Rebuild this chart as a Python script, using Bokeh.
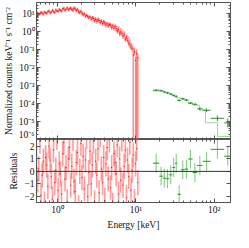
import numpy as np
from bokeh.plotting import figure
from bokeh.layouts import column
from bokeh.models import (LogAxis, LinearAxis, FixedTicker, CustomJSTickFormatter,
                          Range1d, ColumnDataSource, Span)
from bokeh.embed import file_html
from bokeh.resources import INLINE

# ---------------- data ----------------
red_energy = [
    0.540, 0.558, 0.577, 0.597, 0.617, 0.638, 0.660, 0.682, 0.705, 0.729,
    0.754, 0.780, 0.806, 0.834, 0.862, 0.891, 0.922, 0.953, 0.985, 1.019,
    1.054, 1.090, 1.127, 1.165, 1.205, 1.246, 1.288, 1.332, 1.377, 1.424,
    1.473, 1.523, 1.574, 1.628, 1.683, 1.741, 1.800, 1.861, 1.924, 1.990,
    2.057, 2.127, 2.200, 2.274, 2.352, 2.432, 2.514, 2.600, 2.688, 2.780,
    2.874, 2.972, 3.073, 3.178, 3.286, 3.397, 3.513, 3.632, 3.756, 3.883,
    4.015, 4.152, 4.293, 4.439, 4.590, 4.746, 4.908, 5.074, 5.247, 5.425,
    5.610, 5.800, 5.998, 6.202, 6.413, 6.631, 6.856, 7.089, 7.330, 7.580,
    7.837, 8.104, 8.379, 8.664, 8.959, 9.263, 9.578, 9.904, 10.24, 10.59]
red_log_counts = [
    1.00, 1.05, 0.95, 0.99, 1.08, 1.03, 0.97, 1.10, 1.06, 1.01,
    1.12, 1.16, 1.04, 1.09, 1.19, 1.11, 1.07, 1.21, 1.15, 1.13,
    1.24, 1.18, 1.14, 1.27, 1.30, 1.19, 1.25, 1.33, 1.22, 1.28,
    1.32, 1.24, 1.20, 1.31, 1.27, 1.18, 1.23, 1.10, 1.06, 1.13,
    1.02, 0.94, 0.99, 0.86, 0.90, 0.85, 0.76, 0.83, 0.70, 0.77,
    0.74, 0.62, 0.69, 0.58, 0.67, 0.62, 0.51, 0.58, 0.45, 0.54,
    0.48, 0.36, 0.44, 0.33, 0.40, 0.37, 0.24, 0.32, 0.18, 0.28,
    0.16, 0.05, 0.12, -0.08, -0.02, -0.09, -0.25, -0.17, -0.42, -0.35,
    -0.48, -0.63, -0.72, -0.85, -0.95, -1.30, -1.12, -1.60, -1.20, -1.45]
red_err_dex = [0.08] * 30 + [0.10] * 20 + [0.13] * 20 + [0.16] * 15 + [0.22] * 5
red_open_low = [85, 87, 88, 89]          # channels whose error reaches zero
red_residual = [
    1.3, -0.7, 0.2, 2.4, -1.9, -0.3, 0.8, -2.6, 1.1, 0.5,
    -1.2, 2.0, 0.9, -0.4, -2.2, 1.7, -0.9, 0.1, 2.7, -1.5,
    0.6, -0.2, -1.8, 1.4, 2.3, -0.6, 0.3, -2.4, 1.0, 1.9,
    -1.1, 0.4, 2.6, -0.8, -1.6, 0.7, 1.5, -2.9, 0.0, 2.2,
    -0.5, 1.2, -1.4, 0.9, 2.8, -2.0, -0.1, 1.6, -1.0, 0.5,
    2.4, -2.5, 0.8, -0.3, 1.8, -1.7, 2.9, 0.2, -0.9, 1.1,
    -2.3, 0.6, 1.9, -0.6, 2.5, -1.3, 0.3, -2.7, 1.4, 0.7,
    -0.2, 2.1, -1.8, 1.0, -0.7, 2.6, -1.1, 0.4, 1.7, -2.1,
    0.9, -0.4, 2.3, -1.5, 0.1, 1.3, -2.4, 0.6, 1.8, -0.9]
red_model_energy = [0.54, 0.7, 0.9, 1.1, 1.4, 1.65, 1.9, 2.2, 2.6, 3.2, 3.9,
                    4.8, 5.8, 6.8, 7.6, 8.4, 9.0, 9.9, 10.6]
red_model_log = [1.0, 1.06, 1.13, 1.19, 1.26, 1.27, 1.2, 1.0, 0.8, 0.66, 0.55,
                 0.4, 0.28, 0.1, -0.15, -0.45, -0.8, -1.2, -1.3]

green_energy = [18.14, 20.99, 23.02, 25.25, 27.89, 30.39, 32.69, 35.63,
                39.60, 44.03, 49.60, 56.61, 65.48, 79.86, 109.7, 148.7]
green_e_lo = [16.54, 19.90, 22.13, 23.95, 26.63, 29.21, 31.62, 33.79,
              37.56, 41.76, 46.42, 52.99, 60.47, 70.90, 89.95, 133.8]
green_e_hi = [19.90, 22.13, 23.95, 26.63, 29.21, 31.62, 33.79, 37.56,
              41.76, 46.42, 52.99, 60.47, 70.90, 89.95, 133.8, 165.3]
green_log_counts = [-3.26, -3.29, -3.36, -3.41, -3.48, -3.55, -3.60, -3.82,
                    -3.73, -3.80, -3.98, -4.04, -4.29, -4.37, -4.82, -5.07]
green_err_dex = [0.06] * 12 + [0.08, 0.10, 0.15, 0.25]
green_residual = [0.65, -0.38, -0.53, -0.58, -0.27, 0.31, 0.65, -1.82,
                  0.13, 0.18, 0.98, -0.09, 0.47, 0.80, 1.75, 1.20]
green_model_edges = [16.54, 19.90, 22.13, 23.95, 26.63, 29.21, 31.62, 33.79,
                     37.56, 41.76, 46.42, 52.99, 64.27, 77.36, 110.3, 165.3]
green_model_log = [-3.29, -3.28, -3.33, -3.38, -3.46, -3.57, -3.64, -3.69,
                   -3.74, -3.81, -3.96, -4.08, -4.37, -5.07, -5.83]

x_major = [1, 10, 100]
y_major = [1e-6, 1e-5, 1e-4, 1e-3, 1e-2, 1e-1, 1, 10]
r_major = [-2, -1, 0, 1, 2]

# ---------------- styling ----------------
FONT = "Liberation Serif"
FRAME = "#555555"
RED = "#ff0000"
RED_LIGHT = "#ff5c5c"
GREEN = "#2f8f2f"
GREEN_LIGHT = "#7cc77c"

sup_code = """
const m = {'-':'\u207b','0':'\u2070','1':'\u00b9','2':'\u00b2','3':'\u00b3','4':'\u2074',
           '5':'\u2075','6':'\u2076','7':'\u2077','8':'\u2078','9':'\u2079'};
const e = Math.round(Math.log10(tick));
return '10' + String(e).split('').map(c => m[c]).join('');
"""
minus_code = "return String(tick).replace('-', '\u2212');"
blank_code = "return '';"

x_minor = [m * 10.0 ** k for k in (-1, 0, 1, 2) for m in range(2, 10)]
y_minor = [m * 10.0 ** k for k in range(-6, 2) for m in range(2, 10)]


def style_axis(ax, labels=True):
    ax.axis_line_color = FRAME
    ax.major_tick_line_color = FRAME
    ax.minor_tick_line_color = FRAME
    ax.major_tick_in = 4
    ax.major_tick_out = 0
    ax.minor_tick_in = 2
    ax.minor_tick_out = 0
    ax.major_label_text_font = FONT
    ax.major_label_text_font_size = "9.5px"
    ax.major_label_text_color = "#111111"
    ax.major_label_standoff = 2
    ax.axis_label_text_font = FONT
    ax.axis_label_text_font_size = "9.5px"
    ax.axis_label_text_font_style = "normal"
    ax.axis_label_text_color = "#111111"
    ax.axis_label_standoff = 2
    if not labels:
        ax.formatter = CustomJSTickFormatter(code=blank_code)
        ax.major_label_text_font_size = "0px"
        ax.major_label_standoff = 0


W = 233
LB = 30

# ---------------- top panel ----------------
top = figure(width=W, height=139, x_axis_type="log", y_axis_type="log",
             x_range=Range1d(0.54, 161), y_range=Range1d(1e-6, 42),
             x_axis_location=None, output_backend="svg", toolbar_location=None,
             min_border_left=LB, min_border_right=3, min_border_top=2,
             min_border_bottom=0)
top.grid.visible = False
top.outline_line_color = FRAME

ly = top.yaxis[0]
ly.ticker = FixedTicker(ticks=y_major, minor_ticks=y_minor)
ly.formatter = CustomJSTickFormatter(code=sup_code)
ly.axis_label = "Normalized counts keV\u207b\u00b9 s\u207b\u00b9 cm\u207b\u00b2"
style_axis(ly)
for loc in ("below", "above"):
    ax = LogAxis(ticker=FixedTicker(ticks=x_major, minor_ticks=x_minor))
    style_axis(ax, labels=False)
    top.add_layout(ax, loc)
ax = LogAxis(ticker=FixedTicker(ticks=y_major, minor_ticks=y_minor))
style_axis(ax, labels=False)
top.add_layout(ax, "right")

re = np.array(red_energy)
rf = np.power(10.0, np.array(red_log_counts))
rerr = np.array(red_err_dex)
r_lo = rf / np.power(10.0, rerr)
r_hi = rf * np.power(10.0, rerr)
r_lo[red_open_low] = 1e-9
half = 1.017
rres = np.array(red_residual)
red_src = ColumnDataSource(dict(e=re, elo=re / half, ehi=re * half, f=rf,
                                lo=r_lo, hi=r_hi, res=rres,
                                rlo=rres - 1.0, rhi=rres + 1.0))

top.line(red_model_energy, np.power(10.0, np.array(red_model_log)),
         line_color="#ff9c9c", line_width=1)
top.segment(x0="e", y0="lo", x1="e", y1="hi", source=red_src,
            line_color=RED_LIGHT, line_alpha=0.75, line_width=1.4)
top.segment(x0="elo", y0="f", x1="ehi", y1="f", source=red_src,
            line_color=RED, line_width=1)

ge = np.array(green_energy)
gf = np.power(10.0, np.array(green_log_counts))
gerr = np.array(green_err_dex)
gres = np.array(green_residual)
green_src = ColumnDataSource(dict(e=ge, elo=np.array(green_e_lo), ehi=np.array(green_e_hi),
                                  f=gf, lo=gf / np.power(10.0, gerr), hi=gf * np.power(10.0, gerr),
                                  res=gres, rlo=gres - 0.75, rhi=gres + 0.75))

gm = np.power(10.0, np.array(green_model_log))
top.step(x=green_model_edges, y=list(gm) + [gm[-1]], mode="after",
         line_color="#9bd69b", line_width=1)
top.segment(x0="e", y0="lo", x1="e", y1="hi", source=green_src,
            line_color=GREEN, line_width=1)
top.segment(x0="elo", y0="f", x1="ehi", y1="f", source=green_src,
            line_color=GREEN, line_width=1)

# ---------------- residual panel ----------------
bot = figure(width=W, height=93, x_axis_type="log", x_range=top.x_range,
             y_range=Range1d(-2.47, 2.53), output_backend="svg",
             toolbar_location=None, min_border_left=LB, min_border_right=3,
             min_border_top=0, min_border_bottom=0)
bot.grid.visible = False
bot.outline_line_color = FRAME

bx = bot.xaxis[0]
bx.ticker = FixedTicker(ticks=x_major, minor_ticks=x_minor)
bx.formatter = CustomJSTickFormatter(code=sup_code)
bx.axis_label = "Energy [keV]"
style_axis(bx)
by = bot.yaxis[0]
by.ticker = FixedTicker(ticks=r_major)
by.formatter = CustomJSTickFormatter(code=minus_code)
by.axis_label = "Residuals"
style_axis(by)
ax = LogAxis(ticker=FixedTicker(ticks=x_major, minor_ticks=x_minor))
style_axis(ax, labels=False)
bot.add_layout(ax, "above")
ax = LinearAxis(ticker=FixedTicker(ticks=r_major))
style_axis(ax, labels=False)
bot.add_layout(ax, "right")

bot.segment(x0="e", y0="rlo", x1="e", y1="rhi", source=red_src,
            line_color=RED_LIGHT, line_alpha=0.6, line_width=1.6)
bot.segment(x0="elo", y0="res", x1="ehi", y1="res", source=red_src,
            line_color=RED, line_width=1)
bot.segment(x0="e", y0="rlo", x1="e", y1="rhi", source=green_src,
            line_color=GREEN_LIGHT, line_width=1)
bot.segment(x0="elo", y0="res", x1="ehi", y1="res", source=green_src,
            line_color=GREEN, line_width=1)
bot.add_layout(Span(location=0, dimension="width", line_color="#333333", line_width=1))

p = column(top, bot, spacing=0)
open("out.html", "w").write(file_html(p, INLINE))
